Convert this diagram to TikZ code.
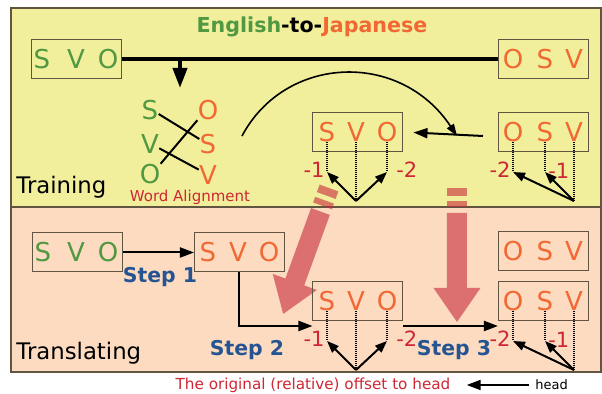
\documentclass[tikz,border=0pt]{standalone}
\usepackage{fontspec}
\setmainfont{DejaVu Sans}
\usetikzlibrary{arrows.meta,positioning,calc}

\definecolor{trainbg}{RGB}{241,239,155}
\definecolor{transbg}{RGB}{252,219,192}
\definecolor{framegray}{RGB}{95,85,65}
\definecolor{engreen}{RGB}{80,152,66}
\definecolor{jaorange}{RGB}{242,104,52}
\definecolor{offred}{RGB}{206,38,52}
\definecolor{stepblue}{RGB}{38,84,146}
\definecolor{hintred}{RGB}{200,40,60}

\begin{document}
\begin{tikzpicture}[
  x=0.5pt,
  y=-0.5pt,
  >={Triangle[length=7pt,width=5pt]},
  panel/.style={draw=framegray, line width=0.6pt},
  box/.style={draw=framegray, line width=0.5pt, minimum width=45pt,
    minimum height=19.5pt, inner sep=0pt},
  word/.style={inner sep=0pt, font=\fontsize{13}{15}\selectfont},
  enword/.style={word, text=engreen},
  jaword/.style={word, text=jaorange},
  offset/.style={inner sep=0pt, text=offred, font=\fontsize{10.5}{12}\selectfont},
  steplabel/.style={text=stepblue, font=\bfseries\fontsize{10.2}{12}\selectfont},
  phase/.style={anchor=west, inner sep=0pt, font=\fontsize{11.4}{13}\selectfont},
  flow/.style={->, line width=1pt},
  offarrow/.style={-{Triangle[length=6pt,width=4.5pt]}, line width=1pt},
  link/.style={line width=1pt, dash pattern=on 0.5pt off 0.5pt},
  reorder/.style={fill=hintred, fill opacity=0.6}
]

\useasboundingbox (0,0) rectangle (602,394);

% the two phases
\draw[panel, fill=trainbg] (11,8) rectangle (601,207);
\draw[panel, fill=transbg] (11,207) rectangle (601,372);

% broken hint arrows from training into translating
\foreach \sx/\sy/\ang in {329/188/-20, 457/188/0} {
  \begin{scope}[shift={(\sx,\sy)}, rotate=\ang]
    \fill[reorder] (-10,0) rectangle (10,8);
    \fill[reorder] (-10,13) rectangle (10,19);
    \fill[reorder] (-10,25) -- (10,25) -- (10,100) -- (23.5,100)
      -- (0,134) -- (-23.5,100) -- (-10,100) -- cycle;
  \end{scope}
}

\node[font=\bfseries\fontsize{10.3}{12}\selectfont] (title) at (312,27)
  {\textcolor{engreen}{English}-to-\textcolor{jaorange}{Japanese}};

% training: parallel sentence pair
\node[box] (srctop) at (77,59.5) {};
\node[enword] (ts1) at (42,59.5) {S};
\node[enword] (tv1) at (76,59.5) {V};
\node[enword] (to1) at (108,59.5) {O};
\node[box] (tgttop) at (543.5,59.5) {};
\node[jaword] (to2) at (513,59.5) {O};
\node[jaword] (ts2) at (545,59.5) {S};
\node[jaword] (tv2) at (574,59.5) {V};

\coordinate (split) at (180,59.5);
\coordinate (aligntop) at (180,88);
\draw[line width=2pt] (srctop.east) -- (tgttop.west);
\draw[line width=2pt, -{Triangle[length=10pt,width=7pt]}] (split) -- (aligntop);

% word alignment
\node[enword] (es) at (150,110) {S};
\node[enword] (ev) at (150,144) {V};
\node[enword] (eo) at (150,174) {O};
\node[jaword] (jo) at (208,110) {O};
\node[jaword] (js) at (208,144) {S};
\node[jaword] (jv) at (208,175) {V};
\draw[line width=1pt] (es.-25) -- (js.150);
\draw[line width=1pt] (ev.-25) -- (jv.150);
\draw[line width=1pt] (eo.north east) -- (jo.south west);
\node[text=offred, font=\fontsize{7.5}{9}\selectfont] (alignlbl) at (190,197)
  {Word Alignment};
\node[phase] (training) at (16,187) {Training};

% offsets read off the aligned target order
\foreach \row/\dy in {train/0, trans/169} {
  \node[box] (svo\row) at (358,132+\dy) {};
  \node[jaword] (ms\row) at (327,132+\dy) {S};
  \node[jaword] (mv\row) at (356,132+\dy) {V};
  \node[jaword] (mo\row) at (387,132+\dy) {O};
  \coordinate (msEnd\row) at (327,172+\dy);
  \coordinate (mvEnd\row) at (356,201+\dy);
  \coordinate (moEnd\row) at (387,172+\dy);
  \draw[link] (ms\row.south) -- (msEnd\row);
  \draw[link] (mv\row.south) -- (mvEnd\row);
  \draw[link] (mo\row.south) -- (moEnd\row);
  \draw[offarrow] (mvEnd\row) -- (msEnd\row);
  \draw[offarrow] (mvEnd\row) -- (moEnd\row);
  \node[offset, anchor=east] (msOff\row) at (325,170+\dy) {-1};
  \node[offset, anchor=west] (moOff\row) at (396,170+\dy) {-2};

  \node[box] (osv\row) at (543.5,132+\dy) {};
  \node[jaword] (ro\row) at (513,132+\dy) {O};
  \node[jaword] (rs\row) at (545,132+\dy) {S};
  \node[jaword] (rv\row) at (574,132+\dy) {V};
  \coordinate (roEnd\row) at (513,172+\dy);
  \coordinate (rsEnd\row) at (545,172+\dy);
  \coordinate (rvEnd\row) at (574,201+\dy);
  \draw[link] (ro\row.south) -- (roEnd\row);
  \draw[link] (rs\row.south) -- (rsEnd\row);
  \draw[link] (rv\row.south) -- (rvEnd\row);
  \draw[offarrow] (rvEnd\row) -- (roEnd\row);
  \draw[offarrow] (rvEnd\row) -- (rsEnd\row);
  \node[offset, anchor=east] (roOff\row) at (511,170+\dy) {-2};
  \node[offset, anchor=west] (rsOff\row) at (548,171+\dy) {-1};
}

% reordering learned from the pair
\coordinate (curvestart) at (242,136);
\coordinate (backstart) at (483,136);
\coordinate (curveend) at (457,136);
\draw[line width=1pt, ->, shorten >=5pt] (backstart) -- (svotrain.east);
\draw[line width=0.8pt, -{Triangle[length=6pt,width=4pt]}] (curvestart)
  .. controls (285,55) and (400,50) .. (curveend);

% translating
\node[box] (srcbot) at (77.5,252.5) {};
\node[enword] (bs1) at (43,252.5) {S};
\node[enword] (bv1) at (76,252.5) {V};
\node[enword] (bo1) at (108,252.5) {O};
\node[box] (reordbot) at (239.5,252.5) {};
\node[jaword] (bs2) at (208,252.5) {S};
\node[jaword] (bv2) at (238,252.5) {V};
\node[jaword] (bo2) at (269,252.5) {O};
\node[box] (tgtbot) at (543.5,251) {};
\node[jaword] (bo3) at (513,251) {O};
\node[jaword] (bs3) at (545,251) {S};
\node[jaword] (bv3) at (574,251) {V};

\draw[flow] (srcbot.east) -- (reordbot.west);
\draw[flow] (reordbot.south) |- ($(svotrans.south west)+(0,5)$);
\draw[flow] ($(svotrans.south east)+(0,5)$) -- ($(osvtrans.south west)+(0,5)$);
\node[steplabel] (step1) at (160,277) {Step 1};
\node[steplabel] (step2) at (247,350) {Step 2};
\node[steplabel] (step3) at (454,350) {Step 3};
\node[phase] (translating) at (16,353) {Translating};

% legend
\node[text=offred, inner sep=0pt, font=\fontsize{7.6}{9}\selectfont] (caption)
  at (313,385) {The original (relative) offset to head};
\node[anchor=west, inner sep=0pt, font=\fontsize{6.5}{8}\selectfont] (headlbl)
  at (535,385) {head};
\draw[flow, shorten >=8pt, shorten <=3pt] (headlbl.west) -- (caption.east);

\end{tikzpicture}
\end{document}
